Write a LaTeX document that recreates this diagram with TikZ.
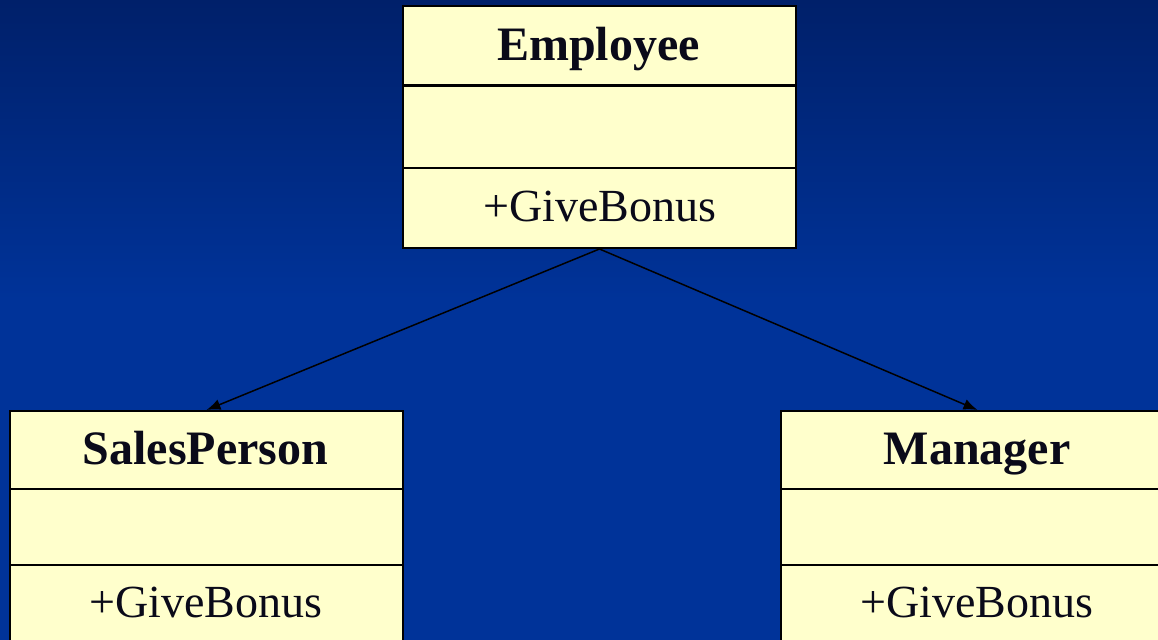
\documentclass[tikz,border=0pt]{standalone}
\usepackage{fontspec}
\setmainfont{Liberation Serif}
\usetikzlibrary{arrows.meta}
\definecolor{bgtop}{RGB}{0,32,106}
\definecolor{bgbot}{RGB}{0,51,153}
\definecolor{boxfill}{RGB}{255,255,204}
\definecolor{ink}{RGB}{10,10,25}
\begin{document}
\begin{tikzpicture}[x=0.5pt,y=-0.5pt,
  classbox/.style={draw=black,line width=1pt,fill=boxfill,anchor=north west,
    minimum width=196.5pt,minimum height=121pt,inner sep=0pt},
  divider/.style={draw=black,line width=0.8pt},
  headdiv/.style={draw=black,line width=1.6pt},
  title/.style={anchor=base,inner sep=0pt,text=ink,font=\fontsize{24}{28}\selectfont\bfseries},
  member/.style={anchor=base,inner sep=0pt,text=ink,font=\fontsize{23}{27}\selectfont},
  inherit/.style={draw=black,line width=0.75pt,-{Latex[length=7pt,width=5.5pt]}}]
\useasboundingbox (0,0) rectangle (1158,640);
\clip (0,0) rectangle (1158,640);
\shade[top color=bgtop,bottom color=bgbot] (0,0) rectangle (1158,300);
\fill[bgbot] (0,299) rectangle (1158,640);
% Employee
\node[classbox] (emp) at (402,5) {};
\draw[headdiv] (402,85.5) -- (795,85.5);
\draw[divider] (402,168) -- (795,168);
\node[title] (empname) at (598.5,61) {Employee};
\node[member] (empop) at (600,222) {+GiveBonus};
% SalesPerson
\node[classbox] (sp) at (9,410) {};
\draw[divider] (9,489) -- (402,489);
\draw[divider] (9,565) -- (402,565);
\node[title] (spname) at (205.5,465) {SalesPerson};
\node[member] (spop) at (206,618) {+GiveBonus};
% Manager
\node[classbox] (mgr) at (780,410) {};
\draw[divider] (780,489) -- (1173,489);
\draw[divider] (780,565) -- (1173,565);
\node[title] (mgrname) at (977,465) {Manager};
\node[member] (mgrop) at (977,618) {+GiveBonus};
% connectors
\draw[inherit] (emp.south) -- (sp.north);
\draw[inherit] (emp.south) -- (mgr.north);
\end{tikzpicture}
\end{document}
